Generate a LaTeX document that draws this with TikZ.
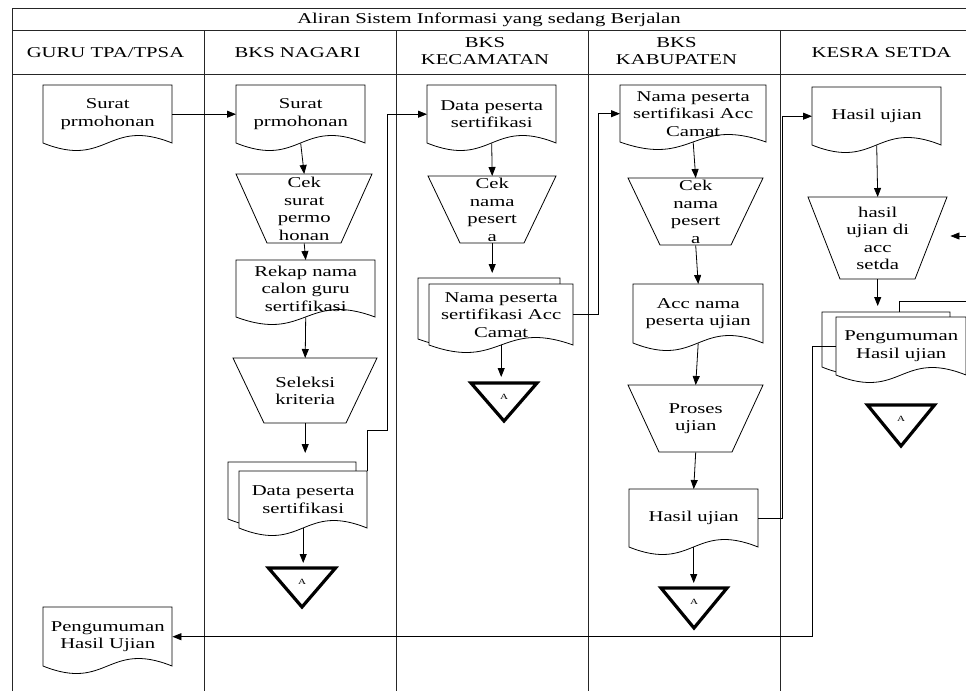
\documentclass[tikz,border=0pt]{standalone}
\usepackage{fontspec}
\setmainfont{Liberation Serif}[FakeStretch=1.38]
\usetikzlibrary{arrows.meta,calc}

\tikzset{
  grid/.style={line width=0.9pt, draw=black!85},
  shp/.style={line width=0.8pt, draw=black, fill=white},
  txt/.style={inner sep=0pt, align=center, font=\fontsize{15}{17.5}\selectfont},
  hdr/.style={inner sep=0pt, align=center, font=\fontsize{15}{17.5}\selectfont},
  arr/.style={line width=0.8pt, -{Triangle[length=9pt,width=7pt]}},
  ln/.style={line width=0.8pt},
  tri/.style={line width=3.2pt, line join=miter},
}

% document outline: x y w h
\newcommand{\docpath}[4]{%
  \draw[shp] (#1,#2+#4) -- (#1,#2) -- (#1+#3,#2) -- (#1+#3,#2+#4)
    .. controls (#1+0.5*#3,#2+#4-26) and (#1+0.5*#3,#2+#4+26) .. (#1,#2+#4) -- cycle;}
% named document: name x y w h text
\newcommand{\docnode}[6]{%
  \docpath{#2}{#3}{#4}{#5}%
  \node[txt,anchor=north west,minimum width=#4,minimum height=#5] (#1) at (#2,#3) {#6};}
% back sheet of a multi-document: name x y w h
\newcommand{\backnode}[5]{%
  \docpath{#2}{#3}{#4}{#5}%
  \node[inner sep=0pt,anchor=north west,minimum width=#4,minimum height=#5] (#1) at (#2,#3) {};}
% manual operation: name x y w inset h text
\newcommand{\trapnode}[7]{%
  \draw[shp] (#2,#3) -- (#2+#4,#3) -- (#2+#4-#5,#3+#6) -- (#2+#5,#3+#6) -- cycle;
  \node[txt,anchor=north west,minimum width=#4,minimum height=#6] (#1) at (#2,#3) {#7};}
% off-page merge triangle: name cx top w h
\newcommand{\trinode}[5]{%
  \draw[tri] (#2-#4/2,#3) -- (#2+#4/2,#3) -- (#2,#3+#5) -- cycle;
  \node[inner sep=0pt,minimum width=#4,minimum height=28,anchor=north,
        font=\fontsize{8}{9}\selectfont] (#1) at (#2,#3) {A};}

\begin{document}
\begin{tikzpicture}[x=1pt,y=-1pt]
\useasboundingbox (0,0) rectangle (966,691);

% ---- swimlane grid ----
\draw[grid] (12,691) -- (12,8) -- (966,8);
\draw[grid] (12,30.7) -- (966,30.7);
\draw[grid] (12,74) -- (966,74);
\foreach \xx in {204,396,588,780} \draw[grid] (\xx,30.7) -- (\xx,691);

\node[hdr] (title) at (489,19.5) {Aliran Sistem Informasi yang sedang Berjalan};
\node[hdr] (h1) at (105.5,53) {GURU TPA/TPSA};
\node[hdr] (h2) at (297.5,53) {BKS NAGARI};
\node[hdr] (h3) at (485,51) {BKS\\KECAMATAN};
\node[hdr] (h4) at (676.5,51) {BKS\\KABUPATEN};
\node[hdr] (h5) at (881.5,53) {KESRA SETDA};

% ---- GURU TPA/TPSA ----
\docnode{g1}{43}{85}{129}{58}{Surat\\prmohonan}
\docnode{g2}{43}{607}{129}{59}{Pengumuman\\Hasil Ujian}

% ---- BKS NAGARI ----
\docnode{n1}{236}{85}{129}{58}{Surat\\prmohonan}
\trapnode{n2}{236}{174}{136}{31}{69}{Cek\\surat\\permo\\honan}
\docnode{n3}{236}{260}{139}{57}{Rekap nama\\calon guru\\sertifikasi}
\trapnode{n4}{233}{358}{144}{31}{65}{Seleksi\\kriteria}
\backnode{n5b}{228}{462}{128}{57}
\docnode{n5}{239}{471}{128}{57}{Data peserta\\sertifikasi}
\trinode{n6}{302}{568}{67}{39}

% ---- BKS KECAMATAN ----
\docnode{k1}{427}{85}{129}{58}{Data peserta\\sertifikasi}
\trapnode{k2}{428}{176}{128}{32}{67}{Cek\\nama\\pesert\\a}
\backnode{k3b}{418}{278}{142}{61}
\docnode{k3}{429}{284}{144}{61}{Nama peserta\\sertifikasi Acc\\Camat}
\trinode{k4}{504}{383}{66}{38}

% ---- BKS KABUPATEN ----
\docnode{b1}{620}{85}{146}{57}{Nama peserta\\sertifikasi Acc\\Camat}
\trapnode{b2}{628}{178}{135}{32}{67}{Cek\\nama\\pesert\\a}
\docnode{b3}{633}{284}{130}{59}{Acc nama\\peserta ujian}
\trapnode{b4}{628}{385}{135}{31}{67}{Proses\\ujian}
\docnode{b5}{629}{489}{129}{58}{Hasil ujian}
\trinode{b6}{694}{588}{66}{40}

% ---- KESRA SETDA ----
\docnode{s1}{812}{87}{129}{58}{Hasil ujian}
\trapnode{s2}{808}{197}{139}{32}{82}{hasil\\ujian di\\acc\\setda}
\backnode{s3b}{822}{312}{128}{55}
\docnode{s3}{836}{317}{130}{58}{Pengumuman\\Hasil ujian}
\trinode{s4}{901}{405}{67}{41}

% ---- connectors ----
\draw[arr] (g1.east) -- (n1.west);
\draw[arr] (n1.south) -- (n2.north);
\draw[arr] (n2.south) -- (n3.north);
\draw[arr] (n3.south) -- (n4.north);
\draw[arr,shorten >=9pt] (n4.south) -- (n4.south |- n5b.north);
\draw[arr,shorten >=5pt] (n5.south) -- (n5.south |- n6.north);
\draw[arr] (n5.north east) -- ++(0,-41) -- ++(20,0) |- (k1.west);

\draw[arr] (k1.south) -- (k2.north);
\draw[arr,shorten >=5pt] (k2.south) -- (k2.south |- k3b.north);
\draw[arr,shorten >=6pt] (k3.south) -- (k3.south |- k4.north);
\draw[arr] (k3.east) -- ++(25,0) |- (b1.west);

\draw[arr] (b1.south) -- (b2.north);
\draw[arr] (b2.south) -- (b3.north);
\draw[arr] (b3.south) -- (b4.north);
\draw[arr] (b4.south) -- (b5.north);
\draw[arr,shorten >=5pt] (b5.south) -- (b5.south |- b6.north);
\draw[arr] (b5.east) -- ++(24,0) |- (s1.west);

\draw[arr] (s1.south) -- (s2.north);
\draw[arr,shorten >=6pt] (s2.south) -- (s2.south |- s3b.north);
\coordinate (inR) at (966,236);
\draw[arr,shorten >=3pt] (inR) -- (inR -| s2.east);
\coordinate (outR) at (966,301);
\draw[ln] ([xshift=13pt]s3b.north) |- (outR);
\draw[arr] (s3.west) -- ++(-24,0) |- (g2.east);
\end{tikzpicture}
\end{document}
